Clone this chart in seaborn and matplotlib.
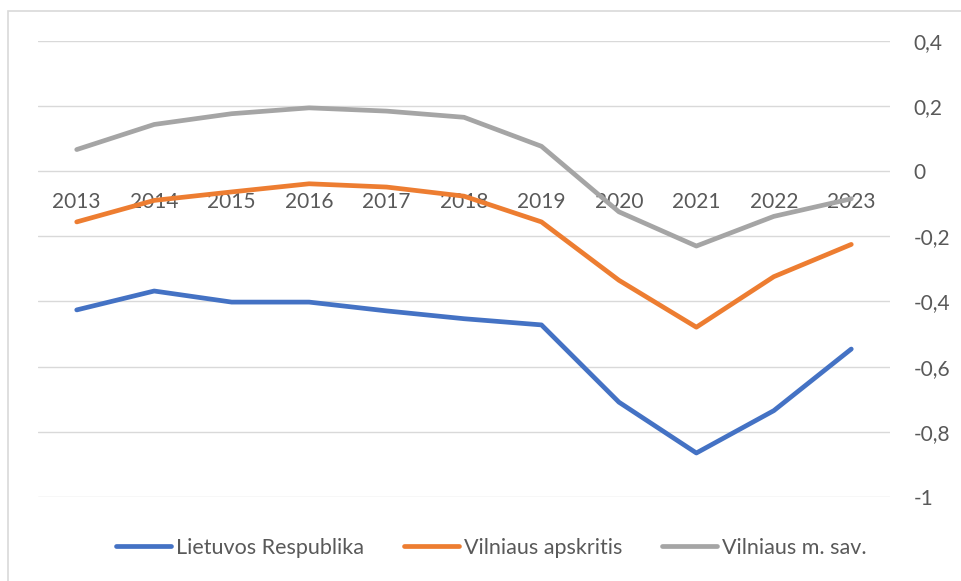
import matplotlib
matplotlib.use("Agg")
import matplotlib.pyplot as plt
from matplotlib.patches import Rectangle
import seaborn as sns
import pandas as pd

years = ["2013", "2014", "2015", "2016", "2017", "2018",
         "2019", "2020", "2021", "2022", "2023"]
lietuvos_respublika = [-0.426, -0.368, -0.402, -0.402, -0.429, -0.453,
                       -0.472, -0.709, -0.865, -0.735, -0.546]
vilniaus_apskritis = [-0.156, -0.090, -0.064, -0.039, -0.049, -0.077,
                      -0.156, -0.335, -0.479, -0.324, -0.225]
vilniaus_m_sav = [0.066, 0.143, 0.176, 0.194, 0.184, 0.165,
                  0.076, -0.125, -0.230, -0.139, -0.085]
series_names = ["Lietuvos Respublika", "Vilniaus apskritis", "Vilniaus m. sav."]
y_ticks = [0.4, 0.2, 0.0, -0.2, -0.4, -0.6, -0.8, -1.0]
y_tick_labels = ["0,4", "0,2", "0", "-0,2", "-0,4", "-0,6", "-0,8", "-1"]

colors = ["#4472C4", "#ED7D31", "#A5A5A5"]
text_color = "#595959"
grid_color = "#D9D9D9"

frames = []
for name, vals in zip(series_names,
                      [lietuvos_respublika, vilniaus_apskritis, vilniaus_m_sav]):
    frames.append(pd.DataFrame({"year": years, "value": vals, "series": name}))
df = pd.concat(frames, ignore_index=True)
df["pos"] = df["year"].map({y: i for i, y in enumerate(years)})

sns.set_theme(style="white")
plt.rcParams["font.family"] = ["Lato", "DejaVu Sans"]

W, H = 961, 581
fig = plt.figure(figsize=(W / 100, H / 100), dpi=100)
ax = fig.add_axes([38 / W, 1 - 497 / H, (890 - 38) / W, (497 - 40.7) / H])

sns.lineplot(data=df, x="pos", y="value", hue="series", hue_order=series_names,
             palette=colors, linewidth=3.4, ax=ax, legend=False,
             solid_capstyle="round", solid_joinstyle="round")

ax.set_xlim(-0.5, len(years) - 0.5)
ax.set_ylim(-1.0, 0.4)

# horizontal gridlines
ax.set_yticks(y_ticks)
ax.set_yticklabels(y_tick_labels)
ax.yaxis.grid(True, color=grid_color, linewidth=1.0)
ax.xaxis.grid(False)
ax.set_axisbelow(True)
for sp in ax.spines.values():
    sp.set_visible(False)

# category labels sit on the zero line
ax.spines["bottom"].set_position(("data", 0))
ax.set_xticks(range(len(years)))
ax.set_xticklabels(years)
ax.tick_params(axis="x", length=0, pad=15, labelsize=15, labelcolor=text_color)

ax.yaxis.tick_right()
ax.tick_params(axis="y", length=0, pad=17, labelsize=15, labelcolor=text_color)
for lbl in ax.get_yticklabels():
    lbl.set_horizontalalignment("left")

ax.set_xlabel("")
ax.set_ylabel("")

handles = [plt.Line2D([], [], color=c, linewidth=3.4, solid_capstyle="round")
           for c in colors]
fig.legend(handles, series_names, loc="center", ncol=3,
           bbox_to_anchor=(491.5 / W, 1 - 548 / H), frameon=False,
           fontsize=15.5, labelcolor=text_color, handlelength=2.55,
           handletextpad=0.23, columnspacing=1.85)

# chart area border
fig.patches.append(Rectangle((8 / W, -0.1), 1.2, 1 - 11 / H + 0.1,
                             transform=fig.transFigure, fill=False,
                             edgecolor=grid_color, linewidth=1.2))

fig.savefig("out.png", dpi=100, facecolor="white")
